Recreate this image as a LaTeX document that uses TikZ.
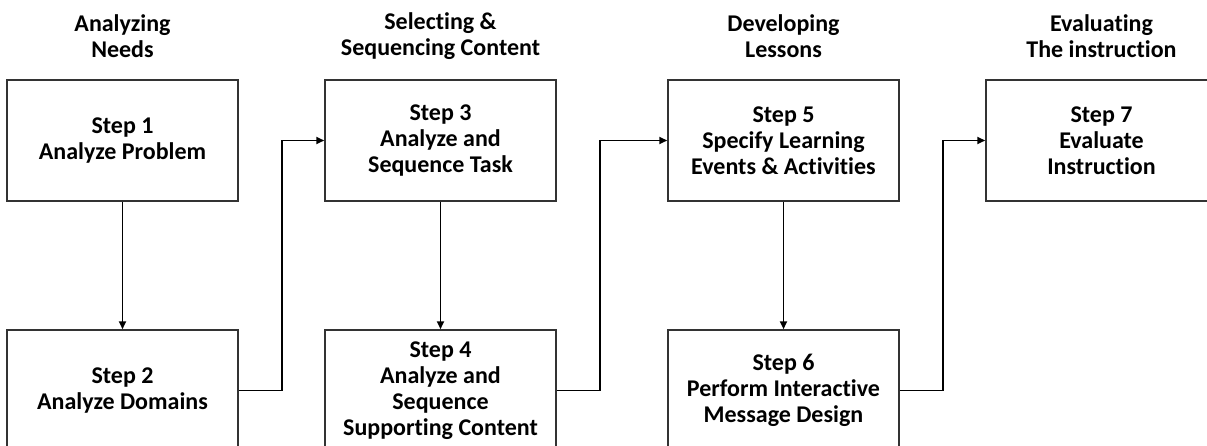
\documentclass[tikz,border=0pt]{standalone}
\usepackage{fontspec}
\setmainfont{Carlito}[Ligatures=NoCommon]
\usetikzlibrary{arrows.meta}
\tikzset{
  stepbox/.style={draw=black!80, line width=1.5pt, minimum width=231pt, minimum height=121pt,
    inner sep=0pt, align=center, font=\fontsize{24}{26}\selectfont\bfseries},
  phase/.style={align=center, inner sep=0pt, font=\fontsize{24}{26}\selectfont\bfseries},
  link/.style={draw=black, line width=1.8pt, -{Triangle[length=8pt,width=7pt]}},
}
\begin{document}
\begin{tikzpicture}[x=1pt,y=-1pt]
\useasboundingbox (0,0) rectangle (1207,446);
\clip (0,0) rectangle (1207,446);
% phase headings
\node[phase] (h1) at (122.5,36) {Analyzing\\Needs};
\node[phase] (h2) at (440.5,36) {Selecting \&\\Sequencing Content};
\node[phase] (h3) at (783.5,36) {Developing\\Lessons};
\node[phase] (h4) at (1101.5,36) {Evaluating\\The instruction};
% steps
\node[stepbox] (b1) at (122.5,140.5) {Step 1\\Analyze Problem};
\node[stepbox] (b2) at (122.5,390.5) {Step 2\\Analyze Domains};
\node[stepbox] (b3) at (440.5,140.5) {Step 3\\Analyze and\\Sequence Task};
\node[stepbox] (b4) at (440.5,390.5) {Step 4\\Analyze and\\Sequence\\Supporting Content};
\node[stepbox] (b5) at (783.5,140.5) {Step 5\\Specify Learning\\Events \& Activities};
\node[stepbox] (b6) at (783.5,390.5) {Step 6\\Perform Interactive\\Message Design};
\node[stepbox] (b7) at (1101.5,140.5) {Step 7\\Evaluate\\Instruction};
% flow
\draw[link] (b1) -- (b2);
\draw[link] (b3) -- (b4);
\draw[link] (b5) -- (b6);
\draw[link] (b2.east) -- ++(43.5,0) |- (b3.west);
\draw[link] (b4.east) -- ++(43.5,0) |- (b5.west);
\draw[link] (b6.east) -- ++(43.5,0) |- (b7.west);
\end{tikzpicture}
\end{document}
